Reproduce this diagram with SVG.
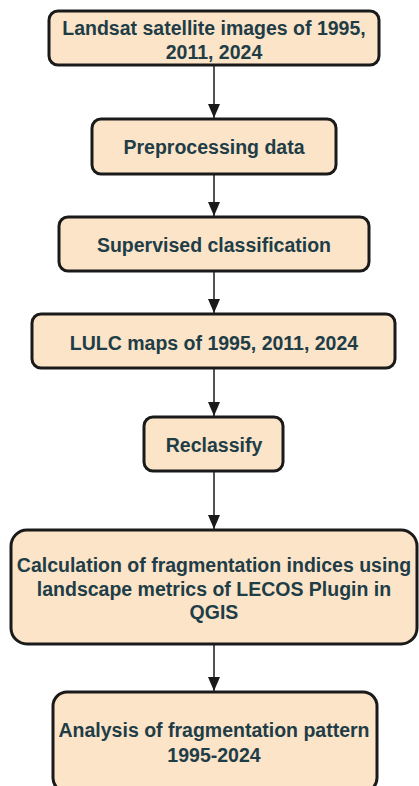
<svg xmlns="http://www.w3.org/2000/svg" width="419" height="786" viewBox="0 0 419 786">
<defs>
<style>
.box{fill:#FBE4C7;stroke:#1a1a1a;stroke-width:3}
.t{font-family:"Liberation Sans",Arial,sans-serif;font-weight:bold;font-size:19.5px;fill:#1E3D47;text-anchor:middle;dominant-baseline:central}
.c{stroke:#1a1a1a;stroke-width:1.5;fill:none;marker-end:url(#ah)}
</style>
<marker id="ah" viewBox="0 0 14 12" refX="14" refY="6" markerWidth="14" markerHeight="12" markerUnits="userSpaceOnUse" orient="auto">
<path d="M0,0 L14,6 L0,12 Z" fill="#1a1a1a"/>
</marker>
</defs>
<rect width="419" height="786" fill="#ffffff"/>
<g id="connectors">
<line class="c" x1="214" y1="66" x2="214" y2="118"/>
<line class="c" x1="214" y1="175" x2="214" y2="216"/>
<line class="c" x1="214" y1="272" x2="214" y2="313"/>
<line class="c" x1="214" y1="369" x2="214" y2="416"/>
<line class="c" x1="214" y1="472" x2="214" y2="529"/>
<line class="c" x1="214" y1="645" x2="214" y2="691"/>
</g>
<g id="n1">
<rect class="box" x="49" y="11" width="330" height="54" rx="9"/>
<text class="t" x="214" y="28">Landsat satellite images of 1995,</text>
<text class="t" x="214" y="52">2011, 2024</text>
</g>
<g id="n2">
<rect class="box" x="92" y="119" width="244" height="55" rx="9"/>
<text class="t" x="214" y="147">Preprocessing data</text>
</g>
<g id="n3">
<rect class="box" x="59" y="217" width="310" height="54" rx="9"/>
<text class="t" x="214" y="245">Supervised classification</text>
</g>
<g id="n4">
<rect class="box" x="32" y="314" width="363" height="54" rx="9"/>
<text class="t" x="214" y="343">LULC maps of 1995, 2011, 2024</text>
</g>
<g id="n5">
<rect class="box" x="144" y="417" width="139" height="54" rx="9"/>
<text class="t" x="214" y="445">Reclassify</text>
</g>
<g id="n6">
<rect class="box" x="11" y="530" width="406" height="114" rx="16"/>
<text class="t" x="214" y="565">Calculation of fragmentation indices using</text>
<text class="t" x="214" y="589">landscape metrics of LECOS Plugin in</text>
<text class="t" x="214" y="612">QGIS</text>
</g>
<g id="n7">
<rect class="box" x="53" y="692" width="324" height="100" rx="14"/>
<text class="t" x="214" y="730">Analysis of fragmentation pattern</text>
<text class="t" x="214" y="755">1995-2024</text>
</g>
</svg>
